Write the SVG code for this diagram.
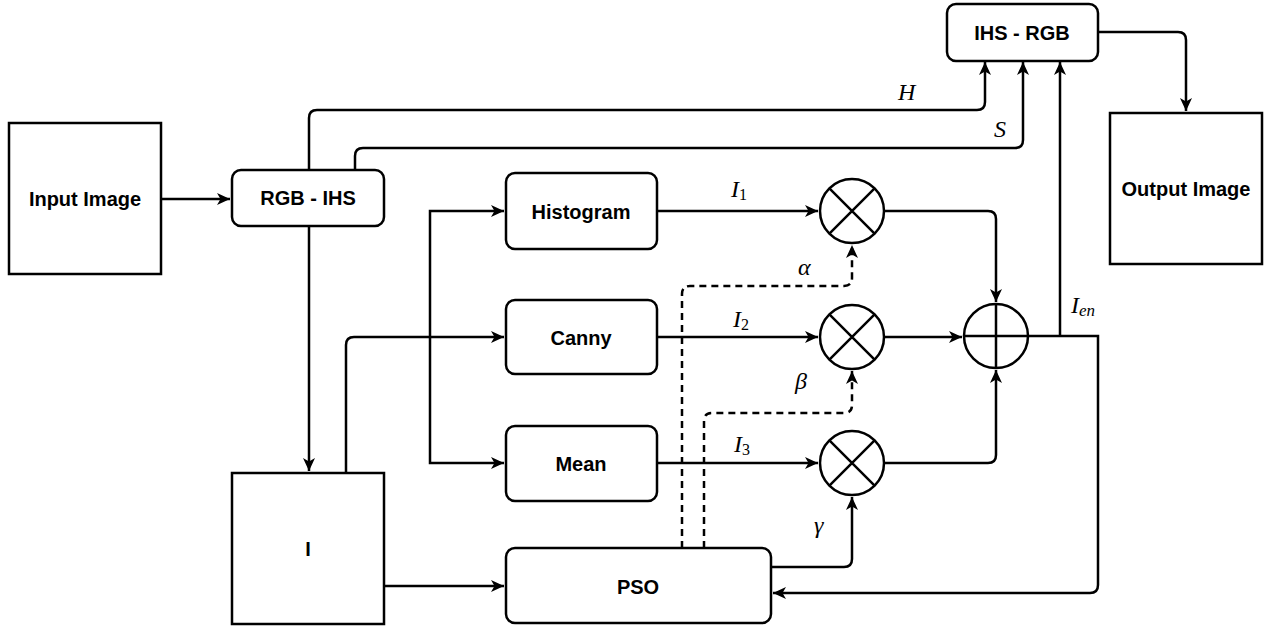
<svg xmlns="http://www.w3.org/2000/svg" width="1277" height="631" viewBox="0 0 1277 631">
<style>
.box{fill:#fff;stroke:#000;stroke-width:2.5}
.lbl{font-family:"Liberation Sans",Arial,sans-serif;font-weight:bold;font-size:20px;text-anchor:middle;dominant-baseline:central;fill:#000}
.c{fill:none;stroke:#000;stroke-width:2.5;marker-end:url(#ah)}
.d{stroke-dasharray:7,5}
.sym{fill:#fff;stroke:#000;stroke-width:2.5}
.ln{stroke:#000;stroke-width:2.5;fill:none}
.m{font-family:"Liberation Serif","Times New Roman",serif;font-style:italic;font-size:24px;fill:#000}
.sub{font-style:normal;font-size:16px}
.subi{font-size:17px}
</style>
<defs>
<marker id="ah" markerUnits="userSpaceOnUse" markerWidth="16" markerHeight="14" refX="13" refY="6" orient="auto">
<path d="M0,0 L13,6 L0,12 L3.5,6 z" fill="#000"/>
</marker>
</defs>
<g id="connectors">
<path class="c" d="M161,199 L230,199"/>
<path class="c" d="M309,169 L309,118 Q309,110 317,110 L977,110 Q985,110 985,102 L985,62"/>
<path class="c" d="M355,169 L355,156 Q355,148 363,148 L1015,148 Q1023,148 1023,140 L1023,62"/>
<path class="c" d="M309,226 L309,471"/>
<path class="c" d="M346,473 L346,345 Q346,337 354,337 L504,337"/>
<path class="c" d="M430,337 L430,211 L504,211"/>
<path class="c" d="M430,337 L430,463 L504,463"/>
<path class="c" d="M384,586 L504,586"/>
<path class="c" d="M657,211 L818,211"/>
<path class="c" d="M657,337 L818,337"/>
<path class="c" d="M657,463 L818,463"/>
<path class="c" d="M884,211 L988,211 Q996,211 996,219 L996,302"/>
<path class="c" d="M884,337 L962,337"/>
<path class="c" d="M884,463 L988,463 Q996,463 996,455 L996,370"/>
<path class="c" d="M1028,336 L1098,336 L1098,585 Q1098,593 1090,593 L773,593"/>
<path class="c" d="M1060,336 L1060,62"/>
<path class="c" d="M1098,32 L1178,32 Q1186,32 1186,40 L1186,111"/>
<path class="c" d="M771,567 L844,567 Q852,567 852,559 L852,497"/>
<path class="c d" d="M682,548 L682,294 Q682,286 690,286 L844,286 Q852,286 852,278 L852,245"/>
<path class="c d" d="M704,548 L704,421 Q704,413 712,413 L844,413 Q852,413 852,405 L852,371"/>
</g>
<g id="input-image"><rect class="box" x="9" y="123" width="152" height="151"/><text class="lbl" x="85" y="199">Input Image</text></g>
<g id="rgb-ihs"><rect class="box" x="232" y="170" width="152" height="56" rx="9"/><text class="lbl" x="308" y="198">RGB - IHS</text></g>
<g id="ihs-rgb"><rect class="box" x="947" y="4" width="151" height="57" rx="9"/><text class="lbl" x="1022" y="33">IHS - RGB</text></g>
<g id="output-image"><rect class="box" x="1110" y="113" width="152" height="151"/><text class="lbl" x="1186" y="189">Output Image</text></g>
<g id="histogram"><rect class="box" x="506" y="173" width="151" height="76" rx="9"/><text class="lbl" x="581" y="212">Histogram</text></g>
<g id="canny"><rect class="box" x="506" y="300" width="151" height="74" rx="9"/><text class="lbl" x="581" y="338">Canny</text></g>
<g id="mean"><rect class="box" x="506" y="426" width="151" height="75" rx="9"/><text class="lbl" x="581" y="464">Mean</text></g>
<g id="i-box"><rect class="box" x="232" y="473" width="152" height="151"/><text class="lbl" x="308" y="549">I</text></g>
<g id="pso"><rect class="box" x="506" y="548" width="265" height="75" rx="9"/><text class="lbl" x="638" y="587">PSO</text></g>
<g id="mult1"><circle class="sym" cx="852" cy="211" r="32"/><path class="ln" d="M829.4,188.4 L874.6,233.6 M874.6,188.4 L829.4,233.6"/></g>
<g id="mult2"><circle class="sym" cx="852" cy="337" r="32"/><path class="ln" d="M829.4,314.4 L874.6,359.6 M874.6,314.4 L829.4,359.6"/></g>
<g id="mult3"><circle class="sym" cx="852" cy="463" r="32"/><path class="ln" d="M829.4,440.4 L874.6,485.6 M874.6,440.4 L829.4,485.6"/></g>
<g id="adder"><circle class="sym" cx="996" cy="336" r="32"/><path class="ln" d="M996,304 L996,368 M964,336 L1028,336"/></g>
<g id="labels">
<text class="m" x="898" y="100">H</text>
<text class="m" x="994" y="137">S</text>
<text class="m" x="731" y="197">I<tspan class="sub" dy="3">1</tspan></text>
<text class="m" x="733" y="327">I<tspan class="sub" dy="3">2</tspan></text>
<text class="m" x="734" y="452">I<tspan class="sub" dy="3">3</tspan></text>
<text class="m" x="798" y="275">α</text>
<text class="m" x="795" y="389">β</text>
<text class="m" x="814" y="533">γ</text>
<text class="m" x="1071" y="313">I<tspan class="subi" dy="3">en</tspan></text>
</g>
</svg>
